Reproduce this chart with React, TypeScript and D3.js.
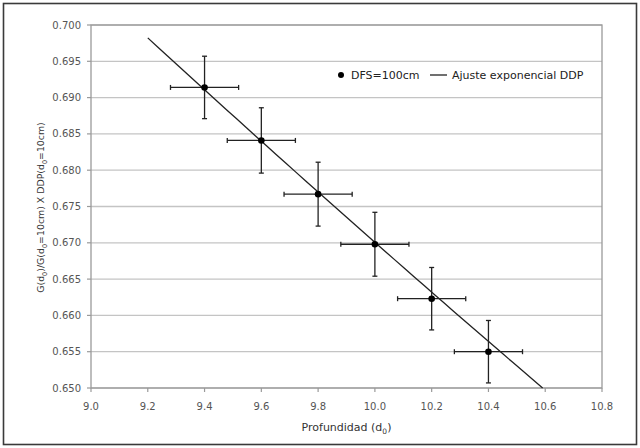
import React from "react";
import * as d3 from "d3";

// Measured points: depth (cm) vs normalised output, with uncertainties
const depths = [9.4, 9.6, 9.8, 10.0, 10.2, 10.4];
const values = [0.6914, 0.6841, 0.6767, 0.6698, 0.6623, 0.655];
const yErrors = [0.0043, 0.0045, 0.0044, 0.0044, 0.0043, 0.0043];
const xErrors = [0.12, 0.12, 0.12, 0.12, 0.12, 0.12];

// Exponential fit y = A * exp(-B * x)
const fitA = 1.121;
const fitB = 0.05146;
const fitStart = 9.2;

const xTicks = [9.0, 9.2, 9.4, 9.6, 9.8, 10.0, 10.2, 10.4, 10.6, 10.8];
const yTicks = [0.65, 0.655, 0.66, 0.665, 0.67, 0.675, 0.68, 0.685, 0.69, 0.695, 0.7];

const W = 640;
const H = 448;
const plot = { left: 91, right: 602, top: 25, bottom: 388 };
const FONT = "'DejaVu Sans', sans-serif";

export default function App() {
  const x = d3.scaleLinear().domain([9.0, 10.8]).range([plot.left, plot.right]);
  const y = d3.scaleLinear().domain([0.65, 0.7]).range([plot.bottom, plot.top]);

  // Fit curve sampled between its start and where it meets the bottom of the axis
  const fitEnd = Math.log(fitA / 0.65) / fitB;
  const fitPts: [number, number][] = d3
    .range(0, 41)
    .map((i) => fitStart + ((fitEnd - fitStart) * i) / 40)
    .map((d) => [d, fitA * Math.exp(-fitB * d)]);
  const fitPath = d3
    .line<[number, number]>()
    .x((d) => x(d[0]))
    .y((d) => y(d[1]))(fitPts);

  const cap = 2.5;

  return (
    <svg
      width={W}
      height={H}
      style={{ position: "absolute", left: 0, top: 0, background: "#fff" }}
      fontFamily={FONT}
    >
      <rect x={0} y={0} width={W} height={H} fill="#fff" />
      <rect x={3.5} y={3.5} width={633} height={441} fill="none" stroke="#3a3a3a" strokeWidth={1.6} />

      {/* horizontal grid */}
      {yTicks.map((t) => (
        <line
          key={"g" + t}
          x1={plot.left}
          x2={plot.right}
          y1={y(t)}
          y2={y(t)}
          stroke="#c4c4c4"
          strokeWidth={1.3}
        />
      ))}

      {/* plot frame */}
      <rect
        x={plot.left}
        y={plot.top}
        width={plot.right - plot.left}
        height={plot.bottom - plot.top}
        fill="none"
        stroke="#9a9a9a"
        strokeWidth={1.3}
      />

      {/* y ticks and labels */}
      {yTicks.map((t) => (
        <g key={"y" + t}>
          <line x1={plot.left - 4} x2={plot.left} y1={y(t)} y2={y(t)} stroke="#9a9a9a" strokeWidth={1.2} />
          <text
            x={plot.left - 10}
            y={y(t)}
            dy="0.35em"
            textAnchor="end"
            fontSize={10}
            fill="#555"
          >
            {d3.format(".3f")(t)}
          </text>
        </g>
      ))}

      {/* x ticks and labels */}
      {xTicks.map((t) => (
        <g key={"x" + t}>
          <line x1={x(t)} x2={x(t)} y1={plot.bottom} y2={plot.bottom + 4} stroke="#9a9a9a" strokeWidth={1.2} />
          <text x={x(t)} y={plot.bottom + 18} dy="0.35em" textAnchor="middle" fontSize={10} fill="#555">
            {d3.format(".1f")(t)}
          </text>
        </g>
      ))}

      {/* axis titles */}
      <text x={(plot.left + plot.right) / 2} y={431} textAnchor="middle" fontSize={11} fill="#333">
        Profundidad (d<tspan fontSize={7.5} dy={3}>0</tspan>
        <tspan dy={-3}>)</tspan>
      </text>
      <text
        transform={`translate(44, ${(plot.top + plot.bottom) / 2 + 1}) rotate(-90)`}
        textAnchor="middle"
        fontSize={9.4}
        fill="#333"
      >
        G(d<tspan fontSize={6.5} dy={2.5}>0</tspan>
        <tspan dy={-2.5}>)/G(d</tspan>
        <tspan fontSize={6.5} dy={2.5}>0</tspan>
        <tspan dy={-2.5}>=10cm) X DDP(d</tspan>
        <tspan fontSize={6.5} dy={2.5}>0</tspan>
        <tspan dy={-2.5}>=10cm)</tspan>
      </text>

      {/* fit line */}
      <path d={fitPath ?? ""} fill="none" stroke="#222" strokeWidth={1.3} />

      {/* error bars and markers */}
      {depths.map((d, i) => {
        const cx = x(d);
        const cy = y(values[i]);
        const y0 = y(values[i] - yErrors[i]);
        const y1 = y(values[i] + yErrors[i]);
        const x0 = x(d - xErrors[i]);
        const x1 = x(d + xErrors[i]);
        return (
          <g key={"p" + i} stroke="#222" strokeWidth={1.3}>
            <line x1={cx} x2={cx} y1={y0} y2={y1} />
            <line x1={cx - cap} x2={cx + cap} y1={y0} y2={y0} />
            <line x1={cx - cap} x2={cx + cap} y1={y1} y2={y1} />
            <line x1={x0} x2={x1} y1={cy} y2={cy} />
            <line x1={x0} x2={x0} y1={cy - cap} y2={cy + cap} />
            <line x1={x1} x2={x1} y1={cy - cap} y2={cy + cap} />
            <circle cx={cx} cy={cy} r={3.3} fill="#000" stroke="none" />
          </g>
        );
      })}

      {/* legend */}
      <g>
        <circle cx={341} cy={75} r={3} fill="#000" />
        <text x={351} y={75} dy="0.35em" fontSize={11} fill="#222">
          DFS=100cm
        </text>
        <line x1={430} x2={447} y1={75} y2={75} stroke="#222" strokeWidth={1.3} />
        <text x={452} y={75} dy="0.35em" fontSize={11} fill="#222">
          Ajuste exponencial DDP
        </text>
      </g>
    </svg>
  );
}
